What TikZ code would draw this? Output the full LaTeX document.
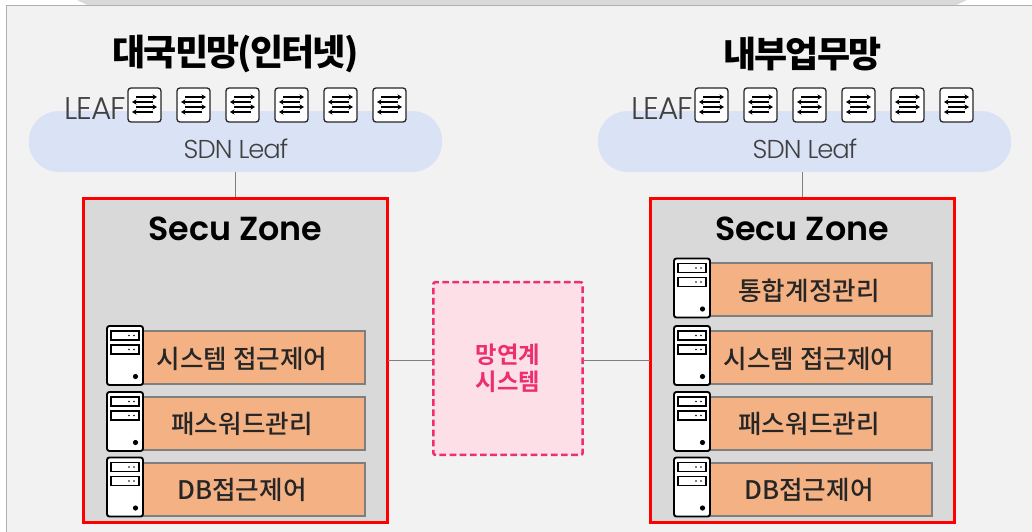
\documentclass[tikz,border=0pt]{standalone}
\usepackage{fontspec}
\setmainfont{Noto Sans CJK KR}
\newfontfamily\krm{Noto Sans CJK KR Medium}
\newfontfamily\krb{Noto Sans CJK KR Bold}
\newfontfamily\krh{Noto Sans CJK KR Black}[LetterSpace=-5]
\newfontfamily\popl{Poppins Light}[LetterSpace=-4]
\newfontfamily\pops{Poppins SemiBold}
\definecolor{panelc}{HTML}{F2F2F2}
\definecolor{edgec}{HTML}{AFAFAF}
\definecolor{bandc}{HTML}{D9D9D9}
\definecolor{pillc}{HTML}{DAE3F5}
\definecolor{orangec}{HTML}{F4B183}
\definecolor{rowedge}{HTML}{7F7F7F}
\definecolor{pinkc}{HTML}{FDDFE8}
\definecolor{pinkd}{HTML}{EC2F70}
\definecolor{inkc}{HTML}{262626}
\definecolor{softc}{HTML}{404040}
\tikzset{
  x=0.75pt,y=-0.75pt,
  pill/.style={fill=pillc,draw=none,rounded corners=22.5pt},
  zone/.style={fill=bandc,draw=red,line width=1.8pt},
  rowbox/.style={fill=orangec,draw=rowedge,line width=1.2pt},
  rowtext/.style={font=\krm\fontsize{19.2}{24}\selectfont,text=inkc,inner sep=0pt,anchor=center},
  wire/.style={draw=rowedge,line width=0.75pt},
  titletext/.style={font=\krh\fontsize{27}{30}\selectfont,text=black,inner sep=0pt},
  zonetext/.style={font=\pops\fontsize{25}{30}\selectfont,text=black,inner sep=0pt},
  leaftext/.style={font=\popl\fontsize{23.5}{26}\selectfont,text=softc,inner sep=0pt},
  sdntext/.style={font=\popl\fontsize{19.4}{22}\selectfont,text=softc,inner sep=0pt},
  swbox/.style={fill=white,draw=black!85,line width=0.95pt,rounded corners=2.2pt},
  srvbox/.style={fill=white,draw=black,line width=1.4pt,rounded corners=1.8pt},
  slot/.style={fill=white,draw=black,line width=1.2pt},
  flow/.style={line width=1.15pt,black,-{Stealth[length=3.4pt,width=4pt]}},
}
\usetikzlibrary{arrows.meta}
\newcommand{\swicon}[1]{%
  \begin{scope}[shift={(#1,88)}]
    \draw[swbox] (0,0) rectangle (33,34);
    \draw[flow] (8,9) -- (29,9);
    \draw[flow] (25,14) -- (4,14);
    \draw[flow] (8,19) -- (29,19);
    \draw[flow] (25,24) -- (4,24);
  \end{scope}}
\newcommand{\srvicon}[2]{%
  \begin{scope}[shift={(#1,#2)}]
    \draw[srvbox] (0,0) rectangle (36,59);
    \draw[slot] (4,5) rectangle (32,14);
    \draw[slot] (4,19) rectangle (32,28);
    \fill[black] (22,9.5) circle (0.9) (27,9.5) circle (0.9) (22,23.5) circle (0.9) (27,23.5) circle (0.9);
    \fill[black] (28.5,50.5) circle (2.6);
  \end{scope}}
\begin{document}
\begin{tikzpicture}
\useasboundingbox (0,0) rectangle (1032,532);
\fill[white] (0,0) rectangle (1032,532);
\draw[fill=panelc,draw=edgec,line width=1.2pt] (6.5,5.5) rectangle (1040,540);
\fill[bandc] (75,-1) -- (87,4.8) -- (957,4.8) -- (969,-1) -- cycle;
\draw[draw=edgec,line width=1.2pt] (6.5,5.5) -- (1032,5.5);
\node[pill,minimum width=310pt,minimum height=45.75pt,anchor=center] (pillL) at (235.5,141.5) {};
\node[pill,minimum width=310pt,minimum height=45.75pt,anchor=center] (pillR) at (804.5,141.5) {};
\node[zone,minimum width=228pt,minimum height=243pt,inner sep=0pt] (zoneL) at (235.5,360.5) {};
\node[zone,minimum width=228pt,minimum height=243pt,inner sep=0pt] (zoneR) at (802.5,360.5) {};
\node[fill=pinkc,draw=pinkd,line width=1.9pt,dash pattern=on 5pt off 2.6pt,rounded corners=1.5pt,minimum width=112pt,minimum height=129.5pt,inner sep=0pt,align=center,font=\krb\fontsize{17.5}{21}\selectfont,text=pinkd] (gate) at (508,368.5) {\raisebox{-1pt}{망연계}\\시스템};
\draw[wire] (pillL.south -| zoneL.north) -- (zoneL.north);
\draw[wire] (pillR.south -| zoneR.north) -- (zoneR.north);
\coordinate (wireL) at (388,360);
\coordinate (wireGL) at (433,360);
\coordinate (wireGR) at (583,360);
\coordinate (wireR) at (650,360);
\draw[wire] (wireL) -- (wireGL);
\draw[wire] (wireGR) -- (wireR);
\node[titletext] (titleL) at (235.5,53.5) {대국민망(인터넷)};
\node[titletext] (titleR) at (802.5,54.5) {내부업무망};
\node[leaftext,anchor=east] (leafL) at (126,109) {LEAF};
\node[leaftext,anchor=east] (leafR) at (693,109) {LEAF};
\foreach \i in {128,177,226,275,324,373} {\swicon{\i}}
\foreach \i in {695,744,793,842,891,940} {\swicon{\i}}
\node[sdntext] (sdnL) at (236,149) {SDN Leaf};
\node[sdntext] (sdnR) at (805,149) {SDN Leaf};
\node[zonetext] (zoneTL) at (235.5,229) {Secu Zone};
\node[zonetext] (zoneTR) at (802,229) {Secu Zone};
\foreach \ya/\yb in {331/384,397/450,463/516} {\draw[rowbox] (143,\ya) rectangle (365,\yb);}
\foreach \ya/\yb in {263/316,331/384,397/450,463/516} {\draw[rowbox] (710,\ya) rectangle (932,\yb);}
\node[rowtext] (a1) at (242,358.5) {시스템 접근제어};
\node[rowtext] (a2) at (242,423.5) {패스워드관리};
\node[rowtext] (a3) at (242,489.5) {DB접근제어};
\node[rowtext] (b0) at (809,290.5) {통합계정관리};
\node[rowtext] (b1) at (809,358.5) {시스템 접근제어};
\node[rowtext] (b2) at (809,423.5) {패스워드관리};
\node[rowtext] (b3) at (809,489.5) {DB접근제어};
\srvicon{107}{326}
\srvicon{107}{392}
\srvicon{107}{457.5}
\srvicon{674}{258.5}
\srvicon{674}{326}
\srvicon{674}{392}
\srvicon{674}{457.5}
\end{tikzpicture}
\end{document}
